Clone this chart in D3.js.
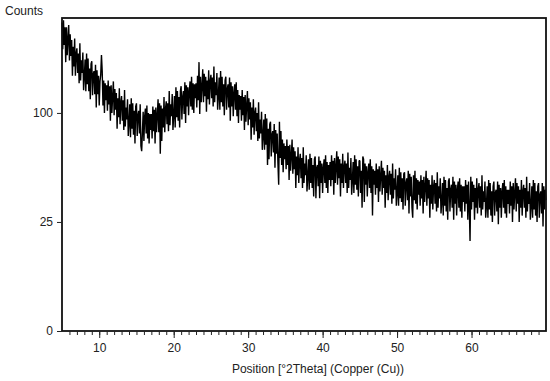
<!DOCTYPE html>
<html>
<head>
<meta charset="utf-8">
<script src="https://cdn.jsdelivr.net/npm/d3@7"></script>
<style>
  html, body { margin: 0; padding: 0; background: #fff; }
  svg { display: block; }
  text { font-family: "Liberation Sans", Arial, sans-serif; fill: #222; }
</style>
</head>
<body>
<svg id="chart" width="550" height="381"></svg>
<script>
// ---- data ----
const angleStart = 5.0;   // °2Theta of first sample
const angleStep = 0.1;    // °2Theta between samples
const counts = [
  200,167,203,172,194,152,194,160,179,197,
  154,185,159,178,137,170,147,180,137,162,
  168,140,162,129,174,132,154,140,163,122,
  136,155,121,162,128,156,121,145,113,150,
  153,117,139,142,118,149,105,143,118,137,
  107,131,138,160,142,107,132,100,129,112,
  127,102,132,108,126,93,127,100,116,131,
  98,123,103,119,86,114,96,124,90,110,
  116,93,112,85,122,88,105,94,113,80,
  91,108,79,114,86,109,81,102,74,106,
  109,80,98,102,82,108,72,68,83,101,
  76,97,104,82,107,78,100,74,99,85,
  99,78,106,84,103,74,105,83,98,113,
  83,109,66,107,76,104,87,115,83,104,
  111,90,109,84,121,89,108,97,118,85,
  98,116,87,125,96,121,93,115,87,121,
  126,94,115,121,99,130,91,127,106,125,
  98,121,131,106,136,103,129,100,128,114,
  129,105,137,112,152,99,136,110,126,144,
  110,139,116,136,101,132,113,143,108,131,
  138,114,135,106,147,110,130,117,140,103,
  116,135,103,142,110,136,106,128,98,132,
  136,103,123,128,105,135,93,130,106,126,
  97,119,128,103,130,97,122,91,117,103,
  116,93,122,98,115,85,117,92,107,121,
  89,114,94,110,77,105,87,113,81,100,
  105,84,100,76,110,78,94,82,101,69,
  80,94,69,99,73,95,58,86,62,90,
  92,64,81,84,67,90,56,85,66,82,
  59,45,92,63,84,58,77,53,74,62,
  72,55,77,58,72,48,73,54,65,77,
  52,71,55,68,43,64,51,71,46,61,
  66,49,63,43,71,46,59,51,65,41,
  50,62,42,66,46,63,43,58,38,62,
  64,37,56,58,44,64,37,61,46,59,
  40,56,62,46,65,43,60,40,58,48,
  60,44,65,48,61,39,63,46,57,68,
  45,64,49,62,38,59,46,66,43,57,
  61,46,59,40,67,43,56,48,63,39,
  48,60,40,65,45,62,42,57,38,61,
  61,40,54,32,64,62,35,59,45,57,
  38,53,59,43,62,40,57,28,55,45,
  54,39,59,43,55,35,57,41,51,61,
  39,56,43,54,32,51,40,58,36,50,
  54,39,52,34,59,37,49,42,55,33,
  40,51,33,56,37,53,35,49,31,52,
  53,33,46,49,36,54,29,52,38,50,
  32,27,51,36,54,34,49,31,48,39,
  47,33,51,37,48,29,50,35,44,54,
  33,49,37,48,27,45,34,51,31,44,
  48,34,46,30,53,32,44,37,49,29,
  35,46,28,50,33,48,30,43,26,47,
  49,30,42,45,32,50,26,47,34,45,
  28,42,47,32,49,30,45,27,44,35,
  44,30,48,34,45,26,47,32,17,50,
  31,47,35,45,26,43,32,49,29,42,
  46,32,44,28,51,31,41,35,47,27,
  33,44,27,48,31,46,28,41,25,44,
  47,28,40,42,30,47,24,45,32,43,
  27,41,46,32,48,29,44,27,42,34,
  42,29,47,33,44,25,46,31,40,49,
  30,46,34,44,25,42,32,48,28,41,
  45,32,43,27,50,30,41,34,46,26,
  33,44,27,48,31,46,28,41,25,44,
  46,27,39,41,29,46,23,44,31,42,
  36
];
const xDomain = [5, 70];
const yMax = 206;
const xMajorTicks = [10, 20, 30, 40, 50, 60];
const xMinorTicks = d3.range(6, 70, 1);
const yTicks = [0, 25, 100];
const xTitle = "Position [°2Theta] (Copper (Cu))";
const yTitle = "Counts";

// ---- layout ----
const svg = d3.select("#chart");
const plotL = 62, plotR = 546, plotT = 18, plotB = 331;

const x = d3.scaleLinear().domain(xDomain).range([plotL, plotR]);
const y = d3.scaleSqrt().domain([0, yMax]).range([plotB, plotT]);

const points = counts.map((c, i) => [angleStart + i * angleStep, c]);

// trace
const line = d3.line().x(d => x(d[0])).y(d => y(d[1]));
svg.append("path")
  .datum(points)
  .attr("d", line)
  .attr("fill", "none")
  .attr("stroke", "#000")
  .attr("stroke-width", 1.4)
  .attr("stroke-linejoin", "bevel");

// frame
svg.append("rect")
  .attr("x", plotL).attr("y", plotT)
  .attr("width", plotR - plotL).attr("height", plotB - plotT)
  .attr("fill", "none").attr("stroke", "#111").attr("stroke-width", 1.8);

// x axis minor ticks
const gxMinor = svg.append("g").attr("transform", `translate(0,${plotB})`)
  .call(d3.axisBottom(x).tickValues(xMinorTicks).tickSize(4).tickFormat(""));
gxMinor.select(".domain").remove();
gxMinor.selectAll("line").attr("stroke", "#222");

// x axis major ticks
const gx = svg.append("g").attr("transform", `translate(0,${plotB})`)
  .call(d3.axisBottom(x).tickValues(xMajorTicks).tickSize(7).tickPadding(5).tickFormat(d3.format("d")));
gx.select(".domain").remove();
gx.selectAll("line").attr("stroke", "#222");
gx.selectAll("text").attr("font-size", 12).attr("font-family", "Liberation Sans, Arial, sans-serif").attr("fill", "#222");

// y axis
const gy = svg.append("g").attr("transform", `translate(${plotL},0)`)
  .call(d3.axisLeft(y).tickValues(yTicks).tickSize(5).tickPadding(4).tickFormat(d3.format("d")));
gy.select(".domain").remove();
gy.selectAll("line").attr("stroke", "#222");
gy.selectAll("text").attr("font-size", 12).attr("font-family", "Liberation Sans, Arial, sans-serif").attr("fill", "#222");

// titles
svg.append("text")
  .attr("x", 318).attr("y", 373)
  .attr("text-anchor", "middle")
  .attr("font-size", 12)
  .text(xTitle);

svg.append("text")
  .attr("x", 5).attr("y", 15)
  .attr("font-size", 12)
  .text(yTitle);
</script>
</body>
</html>
